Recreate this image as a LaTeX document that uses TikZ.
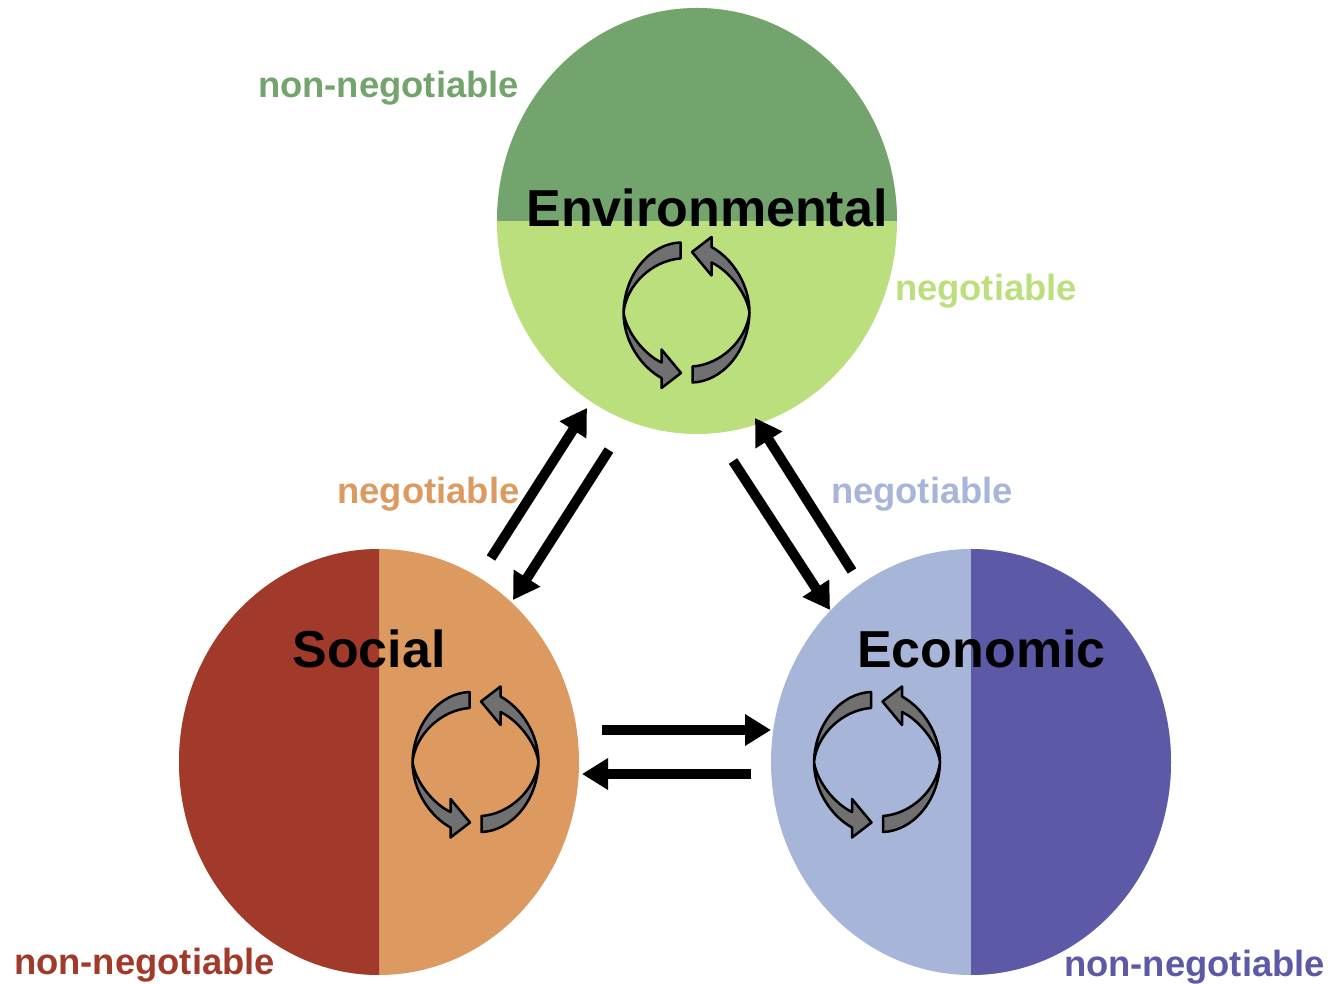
\documentclass[tikz,border=0pt]{standalone}
\usepackage{fontspec}
\setmainfont{Liberation Sans}
\usetikzlibrary{arrows.meta}

\definecolor{envdark}{HTML}{74A46D}
\definecolor{envlight}{HTML}{BCDF7E}
\definecolor{socdark}{HTML}{A23A2B}
\definecolor{soclight}{HTML}{DC9A61}
\definecolor{ecodark}{HTML}{5C59A6}
\definecolor{ecolight}{HTML}{A6B5D8}

\tikzset{
  pillar/.style={anchor=base, inner sep=0pt, text=black, font=\fontsize{52}{52}\selectfont\bfseries},
  kind/.style={anchor=base, inner sep=0pt, font=\fontsize{36.4}{36}\selectfont\bfseries},
  flow/.style={line width=10pt, -{Triangle[length=26pt,width=30pt]}},
  cyclearrow/.style={fill=black!56, draw=black, line width=2.5pt, line join=round}
}

\newcommand{\cyclearrows}[1]{
  \foreach \r in {0,180} {
    \draw [cyclearrow, shift={(#1)}, rotate=\r] (-6,70)
      .. controls (-35,69) and (-62,40) .. (-63,0)
      .. controls (-63,-28) and (-46,-54) .. (-25,-65.5)
      -- (-25,-75.5) -- (-5.5,-60.5) -- (-25,-37) -- (-25,-50)
      .. controls (-42,-42) and (-60,-20) .. (-63,0)
      .. controls (-60,28) and (-34,52) .. (-6,54) -- cycle;
  }
}

\begin{document}
\begin{tikzpicture}[x=1pt, y=1pt]

    \useasboundingbox (0, 0) rectangle (1330, 983);

    \fill [envlight] (697, 762) ellipse [x radius=200pt, y radius=213pt];
    \fill [envdark] (497, 762) arc [start angle=180, end angle=0, x radius=200pt, y radius=213pt] -- cycle;
    \fill [soclight] (379, 221) ellipse [x radius=200pt, y radius=213pt];
    \fill [socdark] (379, 434) arc [start angle=90, end angle=270, x radius=200pt, y radius=213pt] -- cycle;
    \fill [ecolight] (971, 221) ellipse [x radius=200pt, y radius=213pt];
    \fill [ecodark] (971, 434) arc [start angle=90, end angle=-90, x radius=200pt, y radius=213pt] -- cycle;

    \cyclearrows{686.5, 670.5}
    \cyclearrows{475.5, 221}
    \cyclearrows{877, 221}

    \node (env) [pillar] at (707, 756) {Environmental};
    \node (soc) [pillar] at (369, 315) {Social};
    \node (eco) [pillar] at (981.5, 315) {Economic};
    \node (envnon) [kind, text=envdark] at (388.5, 885) {non-negotiable};
    \node (envneg) [kind, text=envlight] at (986, 682) {negotiable};
    \node (socneg) [kind, text=soclight] at (428.5, 479) {negotiable};
    \node (econeg) [kind, text=ecolight] at (922, 479) {negotiable};
    \node (socnon) [kind, text=socdark] at (144.5, 9) {non-negotiable};
    \node (econon) [kind, text=ecodark] at (1194.5, 7) {non-negotiable};

    \coordinate (a) at (491, 425);
    \coordinate (b) at (587, 575);
    \coordinate (c) at (609, 533);
    \coordinate (d) at (513, 383);
    \coordinate (e) at (733, 522);
    \coordinate (f) at (830, 373);
    \coordinate (g) at (852, 412);
    \coordinate (h) at (755, 565);
    \coordinate (i) at (602, 253);
    \coordinate (j) at (771, 253);
    \coordinate (k) at (751, 209);
    \coordinate (l) at (582, 209);

    \draw [flow] (a) to (b);
    \draw [flow] (c) to (d);
    \draw [flow] (e) to (f);
    \draw [flow] (g) to (h);
    \draw [flow] (i) to (j);
    \draw [flow] (k) to (l);

\end{tikzpicture}
\end{document}
